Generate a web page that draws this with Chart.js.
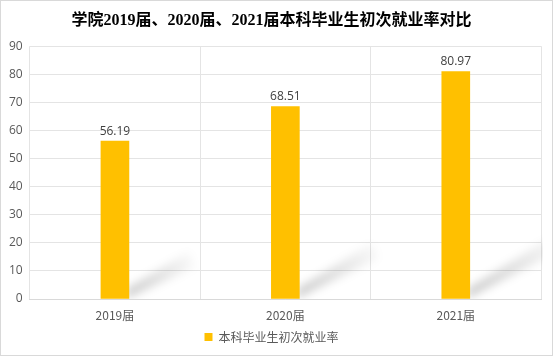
<!DOCTYPE html>
<html><head><meta charset="utf-8">
<script src="https://cdn.jsdelivr.net/npm/chart.js@4/dist/chart.umd.min.js"></script>
<style>
html,body{margin:0;padding:0;background:#fff;}
#wrap{position:relative;width:554px;height:358px;box-sizing:border-box;}
#frame{position:absolute;left:0;top:0;width:553px;height:356px;box-sizing:border-box;border:1px solid #d9d9d9;pointer-events:none;}
</style></head>
<body>
<div id="wrap"><canvas id="c" width="554" height="358"></canvas><div id="frame"></div></div>
<script>
const categories = ["2019届", "2020届", "2021届"];
const seriesName = "本科毕业生初次就业率";
const values = [56.19, 68.51, 80.97];
const yTicks = [0, 10, 20, 30, 40, 50, 60, 70, 80, 90];

const shadowPlugin = {
  id: 'shadow',
  beforeDatasetsDraw(chart) {
    const ctx = chart.ctx;
    const meta = chart.getDatasetMeta(0);
    const area = chart.chartArea;
    ctx.save();
    ctx.beginPath();
    ctx.rect(area.left, area.top - 20, area.right - area.left + 2, area.bottom - area.top + 20);
    ctx.clip();
    meta.data.forEach(bar => {
      const h = bar.base - bar.y;
      const xr = bar.x + bar.width / 2;
      const yb = bar.base;
      const dx = h * 0.38, dy = h * 0.25;
      const g = ctx.createLinearGradient(xr, yb, xr + dx, yb - dy);
      g.addColorStop(0, 'rgba(0,0,0,0.2)');
      g.addColorStop(1, 'rgba(0,0,0,0.03)');
      ctx.filter = 'blur(4px)';
      ctx.fillStyle = g;
      ctx.beginPath();
      ctx.moveTo(xr - 2, yb);
      ctx.lineTo(xr - 2, yb - 10);
      ctx.lineTo(xr + dx, yb - dy - 8);
      ctx.lineTo(xr + dx + 6, yb - dy + 8);
      ctx.closePath();
      ctx.fill();
    });
    ctx.filter = 'none';
    ctx.restore();
  }
};

const labelPlugin = {
  id: 'vlabels',
  afterDatasetsDraw(chart) {
    const ctx = chart.ctx;
    const meta = chart.getDatasetMeta(0);
    ctx.save();
    ctx.font = '12px "Open Sans", "Noto Sans CJK SC", sans-serif';
    ctx.fillStyle = '#404040';
    ctx.textAlign = 'center';
    ctx.textBaseline = 'bottom';
    meta.data.forEach((bar, i) => {
      ctx.fillText(values[i].toFixed(2), bar.x, bar.y - 4);
    });
    ctx.restore();
  }
};

new Chart(document.getElementById('c'), {
  type: 'bar',
  data: {
    labels: categories,
    datasets: [{
      label: seriesName,
      data: values,
      backgroundColor: '#FFC000',
      borderWidth: 0,
      barThickness: 28
    }]
  },
  options: {
    responsive: false,
    animation: false,
    devicePixelRatio: 1,
    layout: { padding: { left: 2, right: 13, top: 0, bottom: 5 } },
    plugins: {
      title: {
        display: true,
        text: '学院2019届、2020届、2021届本科毕业生初次就业率对比',
        color: '#000',
        font: { family: '"Liberation Serif", "Noto Sans CJK SC", serif', size: 16, weight: 'bold' },
        padding: { top: 11, bottom: 16 }
      },
      legend: {
        position: 'bottom',
        labels: {
          boxWidth: 8, boxHeight: 8, color: '#595959',
          font: { family: '"Noto Sans CJK SC", sans-serif', size: 12 },
          padding: 3
        }
      },
      tooltip: { enabled: false }
    },
    scales: {
      x: {
        afterFit(axis) { axis.height = 29; },
        grid: { color: '#e4e4e4', offset: true, drawTicks: false },
        border: { color: '#d9d9d9' },
        ticks: { color: '#595959', font: { family: '"Noto Sans CJK SC", sans-serif', size: 12 }, padding: 9 }
      },
      y: {
        min: 0, max: 90,
        afterBuildTicks(axis) { axis.ticks = yTicks.map(v => ({ value: v })); },
        grid: { color: '#e4e4e4', drawTicks: false },
        border: { display: false },
        ticks: { color: '#595959', font: { family: '"Open Sans", sans-serif', size: 12 }, padding: 7 }
      }
    }
  },
  plugins: [shadowPlugin, labelPlugin]
});
</script>
</body></html>
